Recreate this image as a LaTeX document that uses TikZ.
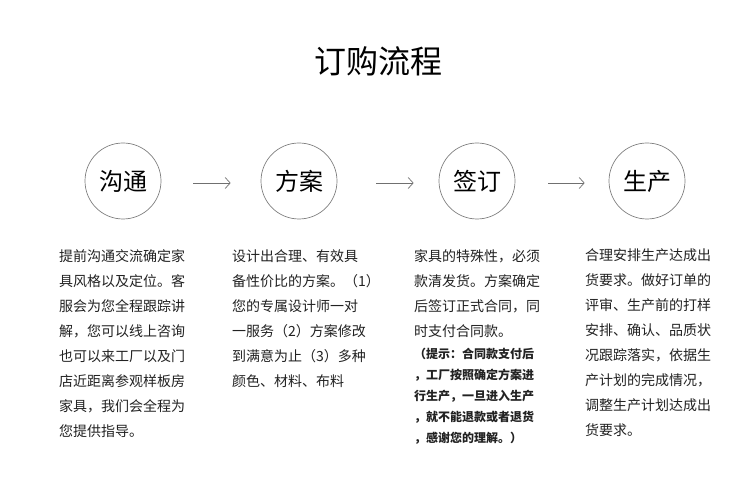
\documentclass[tikz,border=0pt]{standalone}
\usepackage{fontspec}
\setmainfont{Noto Sans CJK SC}
\usetikzlibrary{arrows.meta}
\definecolor{txt}{HTML}{222222}
\definecolor{ring}{HTML}{808080}
\definecolor{arr}{HTML}{707070}
\tikzset{
  stepcircle/.style={circle, draw=ring, line width=0.7pt, minimum size=76pt, inner sep=0pt, text=black, font=\fontsize{24}{28}\selectfont},
  body/.style={anchor=base west, align=left, inner sep=0pt, text=txt, font=\fontsize{14}{25}\selectfont},
  note/.style={anchor=base west, align=left, inner sep=0pt, text=txt, font=\fontsize{12}{21}\selectfont\bfseries},
  flow/.style={draw=arr, line width=0.7pt, -{Straight Barb[length=5pt,width=11pt,line width=0.7pt]}}
}
\begin{document}
\begin{tikzpicture}[x=1pt,y=1pt]
\useasboundingbox[fill=white] (0,0) rectangle (750,495);
\node[anchor=base, text=black, font=\fontsize{32}{36}\selectfont] (title) at (378,421) {订购流程};

\node[stepcircle] (c1) at (123,314) {沟通};
\node[stepcircle] (c2) at (299,314) {方案};
\node[stepcircle] (c3) at (477,314) {签订};
\node[stepcircle] (c4) at (647,314) {生产};

\draw[flow, shorten <=32pt, shorten >=30pt] ([yshift=-2pt]c1.east) -- ([yshift=-2pt]c2.west);
\draw[flow, shorten <=39pt, shorten >=25pt] ([yshift=-2pt]c2.east) -- ([yshift=-2pt]c3.west);
\draw[flow, shorten <=33pt, shorten >=24pt] ([yshift=-2pt]c3.east) -- ([yshift=-2pt]c4.west);

% base anchor = baseline of the last line
\node[body] (t1) at (59,58.5) {提前沟通交流确定家\\具风格以及定位。客\\服会为您全程跟踪讲\\解，您可以线上咨询\\也可以来工厂以及门\\店近距离参观样板房\\家具，我们会全程为\\您提供指导。};

\node[body] (t2) at (232,108.5) {设计出合理、有效具\\备性价比的方案。（1）\\您的专属设计师一对\\一服务（2）方案修改\\到满意为止（3）多种\\颜色、材料、布料};

\node[body] (t3) at (414,158.5) {家具的特殊性，必须\\款清发货。方案确定\\后签订正式合同，同\\时支付合同款。};
\node[note] (t3n) at (414,52.5) {（提示：合同款支付后\\，工厂按照确定方案进\\行生产，一旦进入生产\\，就不能退款或者退货\\，感谢您的理解。）};

\node[body] (t4) at (585,59.5) {合理安排生产达成出\\货要求。做好订单的\\评审、生产前的打样\\安排、确认、品质状\\况跟踪落实，依据生\\产计划的完成情况，\\调整生产计划达成出\\货要求。};
\end{tikzpicture}
\end{document}
